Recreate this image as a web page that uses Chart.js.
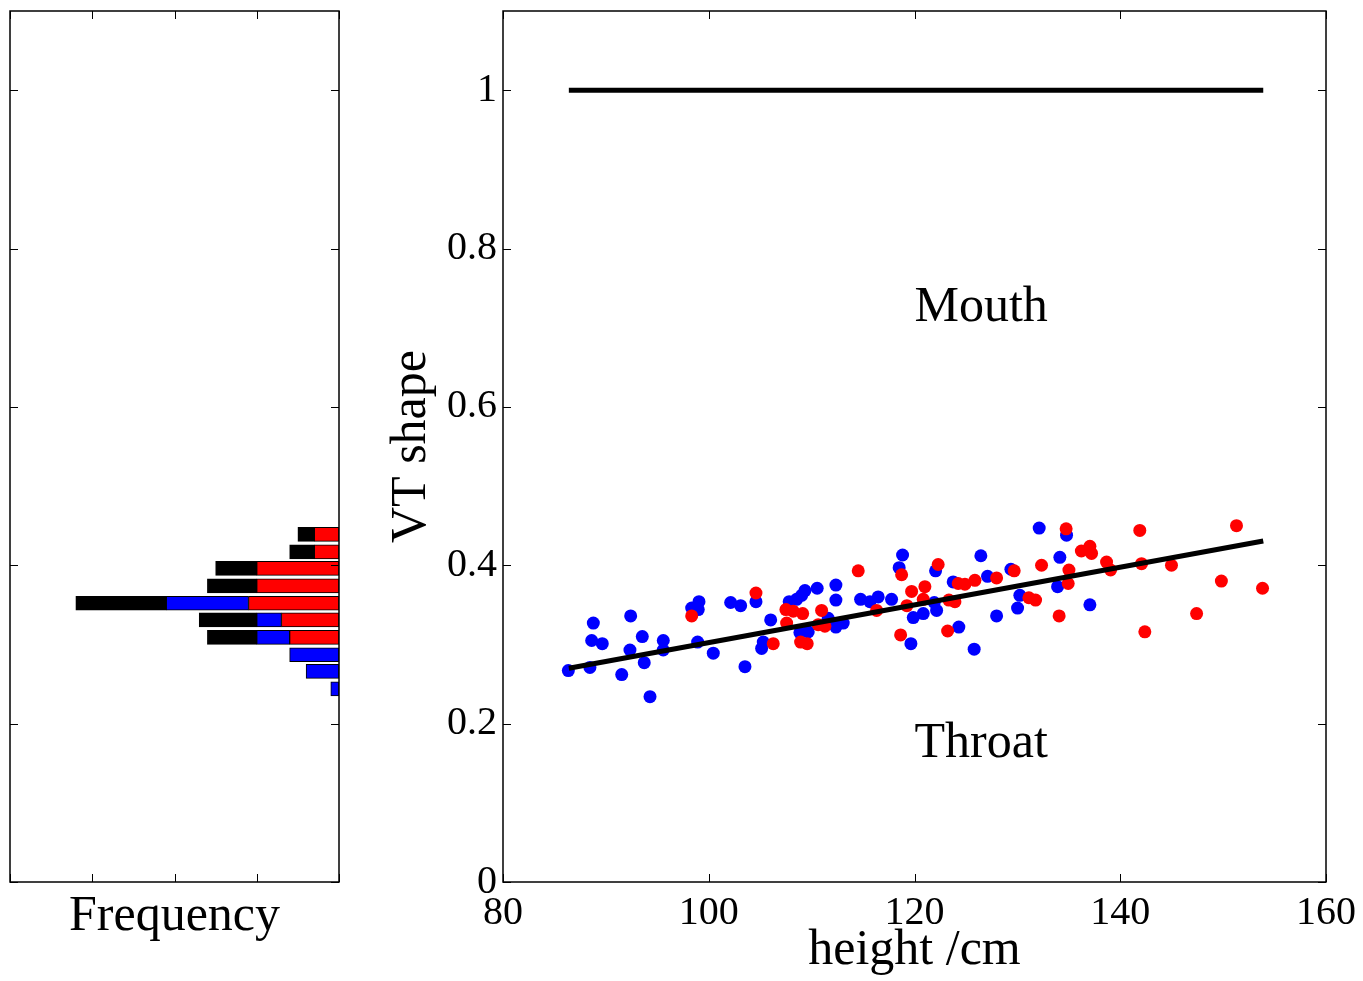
<!DOCTYPE html>
<html><head><meta charset="utf-8">
<script src="https://cdn.jsdelivr.net/npm/chart.js@4/dist/chart.umd.min.js"></script>
<style>
html,body{margin:0;padding:0;background:#fff;}
#wrap{position:relative;width:1363px;height:981px;overflow:hidden;background:#fff;}
#hist{position:absolute;left:0;top:0;}
#scat{position:absolute;left:360px;top:0;}
</style></head><body>
<div id="wrap"><canvas id="hist" width="360" height="981"></canvas><canvas id="scat" width="1003" height="981"></canvas></div>
<script>
// ---- Histogram (left panel) ----
const binCenters = [0.244, 0.266, 0.287, 0.309, 0.331, 0.352, 0.374, 0.396, 0.417, 0.439];
const histRed   = [null, null, null, 6, 7, 11, 10, 10, 3, 3];
const histBlue  = [1, 4, 6, 4, 3, 10, null, null, null, null];
const histBlack = [null, null, null, 6, 7, 11, 6, 5, 3, 2];
const freqTicks = [0, 10, 20, 30, 40];

// ---- Scatter (right panel) ----
const shapeTicks = [0, 0.2, 0.4, 0.6, 0.8, 1];
const shapeTickLabels = ['0', '0.2', '0.4', '0.6', '0.8', '1'];
const heightTicks = [80, 100, 120, 140, 160];
const heightTickLabels = ['80', '100', '120', '140', '160'];
const blueHeights = [86.35,88.45,88.78,88.62,89.65,92.41,93.54,92.34,91.54,93.73,94.29,95.58,95.58,98.34,99.05,98.98,98.92,100.44,102.13,103.10,104.59,103.52,106.02,105.30,105.14,107.82,108.54,109.03,109.35,110.54,112.36,112.36,108.86,109.67,111.61,112.36,113.07,114.76,115.67,116.47,117.77,118.84,118.51,119.65,119.88,122.05,121.92,122.15,120.85,124.31,125.80,123.76,126.45,127.10,127.98,129.37,130.24,130.02,132.12,134.13,134.78,133.91,137.05];
const blueShapes  = [0.267,0.271,0.327,0.305,0.301,0.336,0.310,0.293,0.262,0.277,0.234,0.305,0.293,0.346,0.354,0.344,0.303,0.289,0.353,0.349,0.354,0.272,0.331,0.303,0.295,0.354,0.357,0.362,0.368,0.371,0.375,0.356,0.315,0.316,0.333,0.322,0.327,0.357,0.354,0.360,0.357,0.413,0.397,0.301,0.334,0.393,0.353,0.343,0.339,0.322,0.294,0.379,0.412,0.386,0.336,0.395,0.362,0.346,0.447,0.410,0.438,0.373,0.350];
const redHeights = [98.34,104.59,106.27,107.50,108.21,109.13,107.57,110.97,110.64,111.29,108.93,109.57,114.53,116.32,118.75,118.65,122.30,119.72,121.01,119.26,120.85,123.22,124.25,124.90,125.87,123.34,123.93,127.98,129.69,131.12,131.77,132.35,134.74,135.01,134.94,134.06,136.22,137.05,137.21,138.67,139.06,141.90,142.07,144.98,142.39,147.42,149.83,151.30,153.83];
const redShapes  = [0.336,0.365,0.301,0.344,0.342,0.339,0.327,0.343,0.325,0.323,0.303,0.301,0.393,0.343,0.388,0.312,0.401,0.367,0.373,0.349,0.357,0.317,0.377,0.376,0.381,0.356,0.354,0.384,0.393,0.359,0.356,0.400,0.446,0.394,0.377,0.336,0.418,0.424,0.415,0.404,0.394,0.444,0.402,0.400,0.316,0.339,0.380,0.450,0.371];
const mouthLineX = [86.4, 153.9];
const mouthLineY = [1, 1];
const fitLineX = [86.4, 153.9];
const fitLineY = [0.270, 0.4306];
const noteText = ['Mouth', 'Throat'];
const noteX = [120, 120];
const noteY = [0.709, 0.158];

const SERIF = "'Liberation Serif','Times New Roman',serif";
Chart.defaults.font.family = SERIF;
Chart.defaults.color = '#000';
Chart.defaults.animation = false;

const framePlugin = {
  id: 'frame',
  afterDraw(chart) {
    const {ctx, chartArea: a} = chart;
    const xs = chart.scales.x, ys = chart.scales.y;
    ctx.save();
    ctx.strokeStyle = '#000';
    ctx.lineWidth = 1;
    ctx.beginPath();
    xs.ticks.forEach(t => {
      const p = Math.round(xs.getPixelForValue(t.value)) + 0.5;
      ctx.moveTo(p, a.bottom); ctx.lineTo(p, a.bottom - 8);
      ctx.moveTo(p, a.top); ctx.lineTo(p, a.top + 8);
    });
    ys.ticks.forEach(t => {
      const p = Math.round(ys.getPixelForValue(t.value)) + 0.5;
      ctx.moveTo(a.left, p); ctx.lineTo(a.left + 8, p);
      ctx.moveTo(a.right, p); ctx.lineTo(a.right - 8, p);
    });
    ctx.stroke();
    ctx.lineWidth = 1.5;
    ctx.strokeRect(a.left, a.top, a.right - a.left, a.bottom - a.top);
    ctx.restore();
  }
};

const notesPlugin = {
  id: 'notes',
  afterDatasetsDraw(chart) {
    const {ctx} = chart;
    const xs = chart.scales.x, ys = chart.scales.y;
    ctx.save();
    ctx.fillStyle = '#000';
    ctx.font = '50px ' + SERIF;
    ctx.textAlign = 'left';
    ctx.textBaseline = 'alphabetic';
    noteText.forEach((t, i) => {
      ctx.fillText(t, xs.getPixelForValue(noteX[i]), ys.getPixelForValue(noteY[i]));
    });
    ctx.restore();
  }
};

function fixTicks(arr) { return s => { s.ticks = arr.map(v => ({value: v})); }; }

// Left histogram
new Chart(document.getElementById('hist'), {
  type: 'bar',
  data: {
    datasets: [
      {data: binCenters.map((c, i) => ({x: histRed[i], y: c})), backgroundColor: '#ff0000'},
      {data: binCenters.map((c, i) => ({x: histBlue[i], y: c})), backgroundColor: '#0000ff'},
      {data: binCenters.map((c, i) => ({x: histBlack[i], y: c})), backgroundColor: '#000000'}
    ].map(d => Object.assign(d, {borderColor: '#000', borderWidth: 1, borderSkipped: false, barThickness: 14}))
  },
  options: {
    indexAxis: 'y',
    responsive: false,
    layout: {padding: {left: 10, right: 21, top: 11, bottom: 0}},
    plugins: {legend: {display: false}, tooltip: {enabled: false}},
    scales: {
      x: {
        type: 'linear', reverse: true, min: 0, max: 40, stacked: true, offset: false,
        grid: {display: false, drawTicks: false, offset: false}, border: {display: false},
        ticks: {display: false},
        title: {display: true, text: 'Frequency', color: '#000', font: {size: 50}, padding: {top: 0, bottom: 34}},
        afterBuildTicks: fixTicks(freqTicks),
        afterFit: s => { s.height = 99; s.paddingLeft = 0; s.paddingRight = 0; }
      },
      y: {
        type: 'linear', min: 0, max: 1.1, stacked: true, offset: false,
        grid: {display: false, drawTicks: false, offset: false}, border: {display: false},
        ticks: {display: false},
        afterBuildTicks: fixTicks(shapeTicks),
        afterFit: s => { s.width = 0; s.paddingTop = 0; s.paddingBottom = 0; }
      }
    }
  },
  plugins: [framePlugin]
});

// Right scatter
new Chart(document.getElementById('scat'), {
  type: 'scatter',
  data: {
    datasets: [
      {data: mouthLineX.map((x, i) => ({x, y: mouthLineY[i]})), showLine: true, borderColor: '#000', borderWidth: 5, pointRadius: 0, order: 0},
      {data: fitLineX.map((x, i) => ({x, y: fitLineY[i]})), showLine: true, borderColor: '#000', borderWidth: 5, pointRadius: 0, order: 0},
      {data: redHeights.map((x, i) => ({x, y: redShapes[i]})), backgroundColor: '#ff0000', borderWidth: 0, pointRadius: 6.5, order: 1},
      {data: blueHeights.map((x, i) => ({x, y: blueShapes[i]})), backgroundColor: '#0000ff', borderWidth: 0, pointRadius: 6.5, order: 2}
    ]
  },
  options: {
    responsive: false,
    layout: {padding: {left: 0, right: 37, top: 11, bottom: 0}},
    plugins: {legend: {display: false}, tooltip: {enabled: false}},
    scales: {
      x: {
        type: 'linear', min: 80, max: 160,
        grid: {display: false, drawTicks: false}, border: {display: false},
        ticks: {font: {size: 40}, color: '#000', padding: 7, maxRotation: 0, autoSkip: false,
                callback: (v, i) => heightTickLabels[i]},
        title: {display: true, text: 'height /cm', color: '#000', font: {size: 50}, padding: {top: 0, bottom: 0}},
        afterBuildTicks: fixTicks(heightTicks),
        afterFit: s => { s.height = 99; s.paddingLeft = 0; s.paddingRight = 0; }
      },
      y: {
        type: 'linear', min: 0, max: 1.1,
        grid: {display: false, drawTicks: false}, border: {display: false},
        ticks: {font: {size: 40}, color: '#000', padding: 6, autoSkip: false,
                callback: (v, i) => shapeTickLabels[i]},
        title: {display: true, text: 'VT shape', color: '#000', font: {size: 50}, padding: {top: 22, bottom: 0}},
        afterBuildTicks: fixTicks(shapeTicks),
        afterFit: s => { s.width = 143; s.paddingTop = 0; s.paddingBottom = 0; }
      }
    }
  },
  plugins: [framePlugin, notesPlugin]
});
</script>
</body></html>
